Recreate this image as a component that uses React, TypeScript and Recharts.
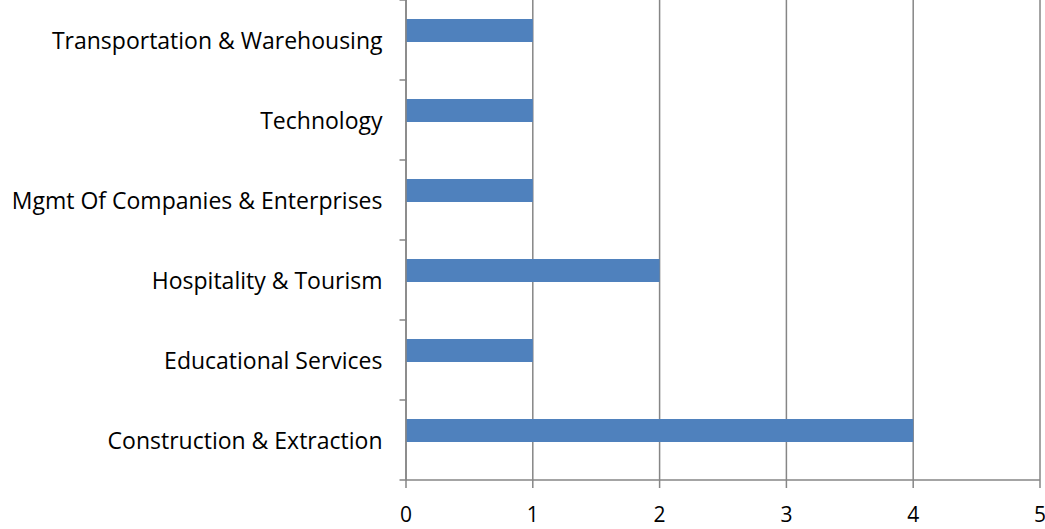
import { Bar, BarChart, CartesianGrid, XAxis, YAxis } from "recharts";

const categories = [
  "Transportation & Warehousing",
  "Technology",
  "Mgmt Of Companies & Enterprises",
  "Hospitality & Tourism",
  "Educational Services",
  "Construction & Extraction",
];
const counts = [1, 1, 1, 2, 1, 4];
const xTicks = [0, 1, 2, 3, 4, 5];

const data = categories.map((name, i) => ({ name, value: counts[i] }));

const font = "'Open Sans', sans-serif";
const axisColor = "#868686";
const line = { stroke: axisColor, strokeWidth: 1.5 };

// y-axis: label at the band centre, tick marks on the band edges (Excel style)
function CategoryTick(props: any) {
  const { y, index, visibleTicksCount } = props;
  const ax = 406.5;
  const half = 40;
  return (
    <g>
      <line x1={ax - 7} x2={ax} y1={y - half} y2={y - half} {...line} />
      {index === visibleTicksCount - 1 && (
        <line x1={ax - 7} x2={ax} y1={y + half} y2={y + half} {...line} />
      )}
      <text x={ax - 24} y={y} textAnchor="end" dominantBaseline="central" fontFamily={font} fontSize={23} fill="#000">
        {props.payload.value}
      </text>
    </g>
  );
}

function ValueTick(props: any) {
  const { x } = props;
  const ay = 480;
  return (
    <g>
      <line x1={x} x2={x} y1={ay} y2={ay + 8} {...line} />
      <text x={x} y={ay + 34} textAnchor="middle" dominantBaseline="central" fontFamily={font} fontSize={21} fill="#000">
        {props.payload.value}
      </text>
    </g>
  );
}

// bars sit a little above the band centre in the original
function ShiftedBar(props: any) {
  const { x, y, width, height, fill } = props;
  return <rect x={x} y={y - 10} width={width} height={height} fill={fill} />;
}

export default function App() {
  return (
    <div style={{ position: "absolute", left: 0, top: 0, background: "#fff" }}>
      <BarChart
        width={1045}
        height={529}
        data={data}
        layout="vertical"
        margin={{ top: 0, right: 5, bottom: 0, left: 0 }}
      >
        <CartesianGrid horizontal={false} stroke={axisColor} strokeWidth={1.5} />
        <XAxis
          type="number"
          domain={[0, 5]}
          ticks={xTicks}
          height={49}
          axisLine={line}
          tickLine={false}
          tick={<ValueTick />}
        />
        <YAxis
          type="category"
          dataKey="name"
          width={406}
          axisLine={line}
          tickLine={false}
          tick={<CategoryTick />}
          interval={0}
        />
        <Bar dataKey="value" fill="#4F81BD" barSize={23} shape={<ShiftedBar />} isAnimationActive={false} />
      </BarChart>
    </div>
  );
}
